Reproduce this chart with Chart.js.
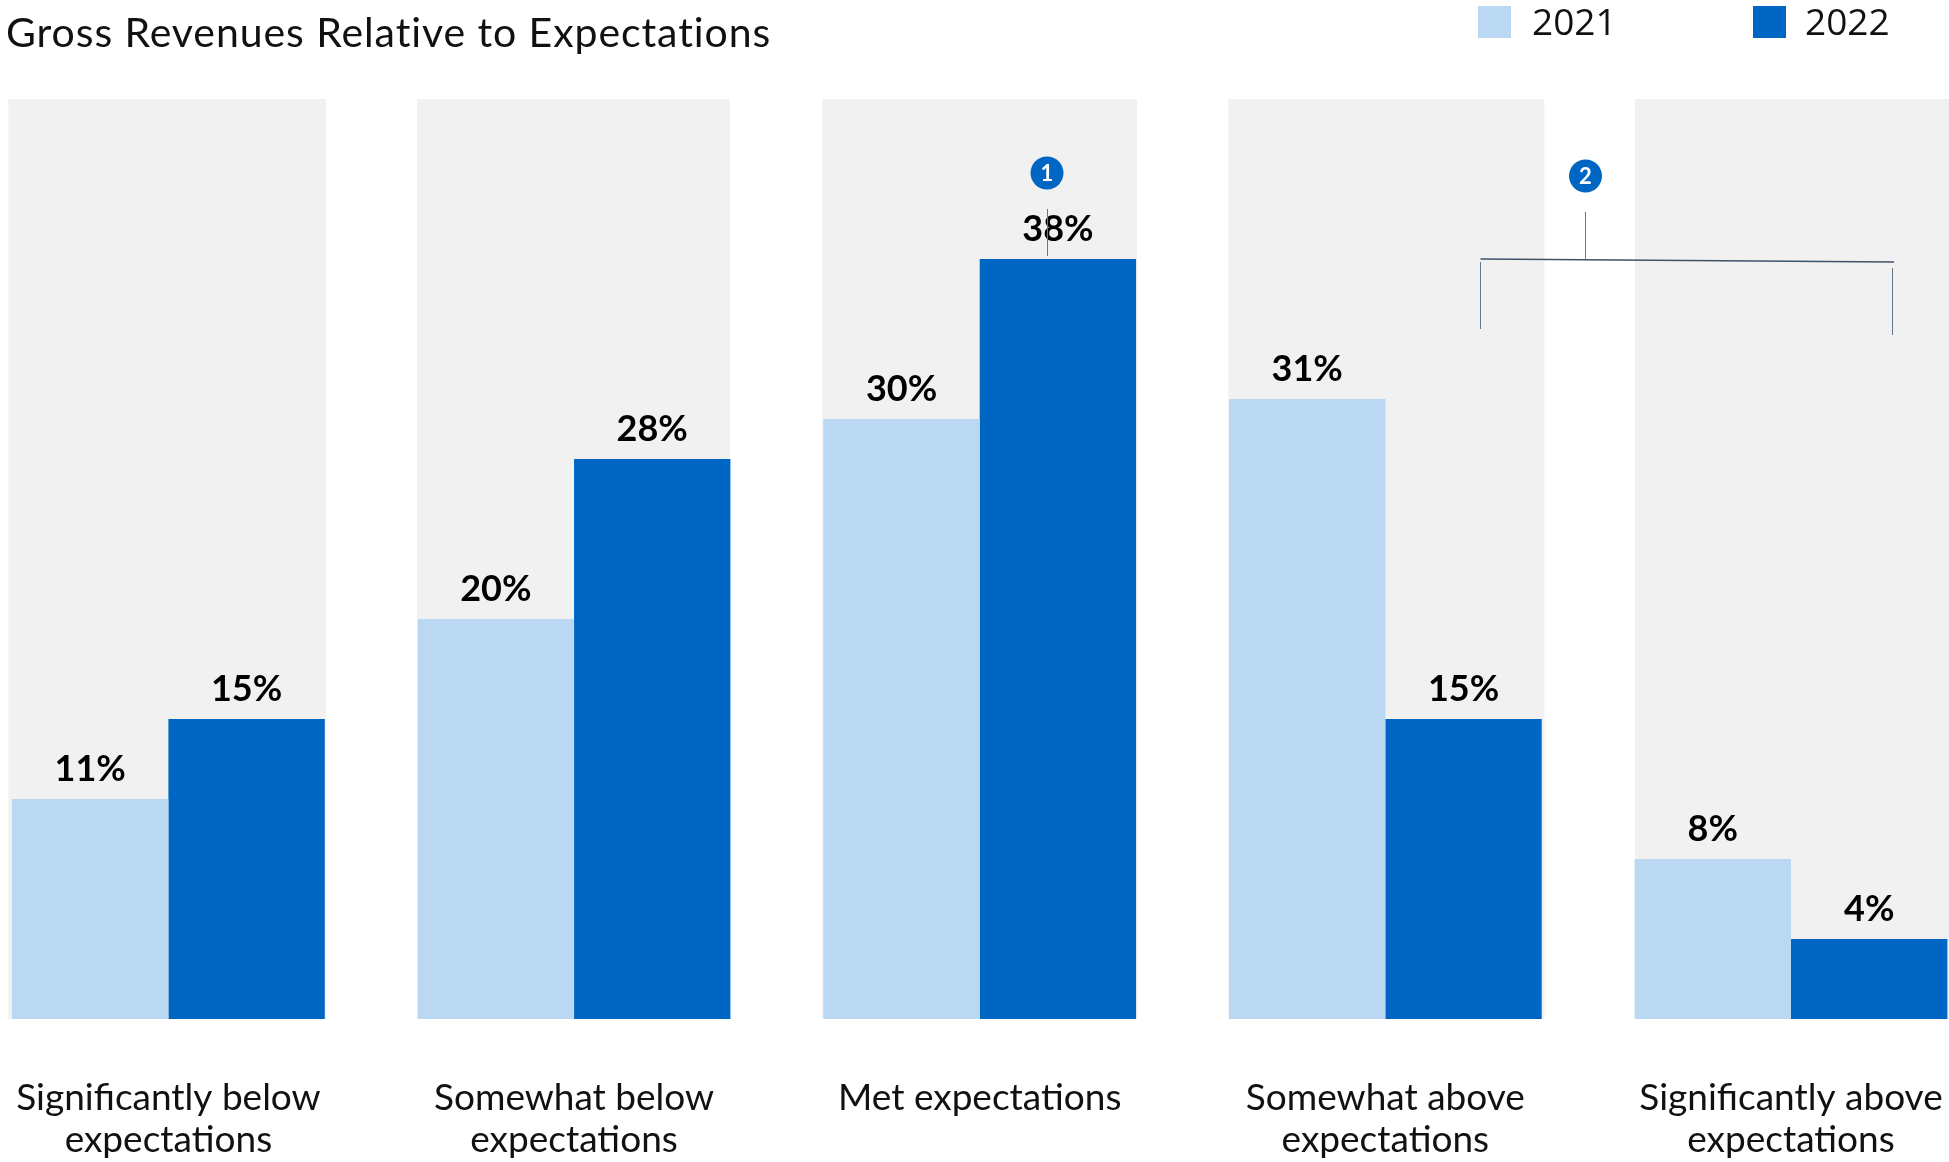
<!DOCTYPE html>
<html>
<head>
<meta charset="utf-8">
<title>Gross Revenues Relative to Expectations</title>
<script src="https://cdn.jsdelivr.net/npm/chart.js@4"></script>
<style>
    html, body { margin: 0; padding: 0; background: #fff; width: 1949px; height: 1162px; overflow: hidden; }
    #wrap { position: relative; width: 1949px; height: 1162px; }
    #myChart { position: absolute; left: 0; top: 0; }
    .title { position: absolute; left: 6px; top: 8px; font: 400 41px/48px Lato, sans-serif; letter-spacing: 0.92px; color: #111; white-space: nowrap; }
    .swatch { position: absolute; top: 6px; width: 33px; height: 32px; }
    .year { position: absolute; top: -2px; font: 400 37px/46px "Open Sans", sans-serif; color: #111; }
</style>
</head>
<body>
<div id="wrap">
    <canvas id="myChart" width="1949" height="1162"></canvas>
    <div class="title">Gross Revenues Relative to Expectations</div>
    <div class="swatch" style="left:1478px;background:#BAD8F2"></div>
    <div class="year" style="left:1532px">2021</div>
    <div class="swatch" style="left:1753px;background:#0066C4"></div>
    <div class="year" style="left:1805px">2022</div>
</div>
<script>
const categories = [
    ['Significantly below', 'expectations'],
    ['Somewhat below', 'expectations'],
    ['Met expectations'],
    ['Somewhat above', 'expectations'],
    ['Significantly above', 'expectations']
];
const values2021 = [11, 20, 30, 31, 8];
const values2022 = [15, 28, 38, 15, 4];

// gray column behind each group, offsets from the group centre
const panelPlugin = {
    id: 'panels',
    beforeDatasetsDraw(chart) {
        const { ctx, chartArea, scales } = chart;
        const edges = [[-160, 157.5], [-157, 156], [-157.5, 157.5], [-157, 159], [-156, 158]];
        ctx.save();
        ctx.fillStyle = '#F1F1F1';
        edges.forEach((e, i) => {
            const c = scales.x.getPixelForTick(i);
            ctx.fillRect(c + e[0], chartArea.top, e[1] - e[0], chartArea.bottom - chartArea.top);
        });
        ctx.restore();
    }
};

// percent label above every bar
const valueLabelPlugin = {
    id: 'valueLabels',
    afterDatasetsDraw(chart) {
        const { ctx } = chart;
        ctx.save();
        ctx.font = '700 36px Lato, sans-serif';
        ctx.fillStyle = '#000';
        ctx.textAlign = 'center';
        ctx.textBaseline = 'alphabetic';
        chart.data.datasets.forEach((ds, d) => {
            chart.getDatasetMeta(d).data.forEach((bar, i) => {
                ctx.fillText(ds.data[i] + '%', bar.x, bar.y - 18);
            });
        });
        ctx.restore();
    }
};

function seg(ctx, x1, y1, x2, y2) {
    ctx.beginPath();
    ctx.moveTo(x1, y1);
    ctx.lineTo(x2, y2);
    ctx.stroke();
}

function badge(ctx, x, y, txt) {
    ctx.fillStyle = '#0066C4';
    ctx.beginPath();
    ctx.arc(x, y, 16.5, 0, Math.PI * 2);
    ctx.fill();
    ctx.fillStyle = '#fff';
    ctx.font = '700 22px Lato, sans-serif';
    ctx.fillText(txt, x, y + 1);
}

// numbered callouts and the bracket over the two "above" groups
const calloutPlugin = {
    id: 'callouts',
    afterDraw(chart) {
        const { ctx } = chart;
        ctx.save();
        ctx.textAlign = 'center';
        ctx.textBaseline = 'middle';
        ctx.strokeStyle = '#64798B';
        ctx.lineWidth = 1;
        seg(ctx, 1047.5, 209, 1047.5, 256);
        seg(ctx, 1585.5, 212, 1585.5, 259);
        seg(ctx, 1480.5, 262, 1480.5, 329);
        seg(ctx, 1892.5, 268, 1892.5, 335);
        ctx.strokeStyle = '#3D5368';
        ctx.lineWidth = 1.5;
        seg(ctx, 1480.5, 259, 1894, 262);
        badge(ctx, 1047, 173, '1');
        badge(ctx, 1585.5, 176, '2');
        ctx.restore();
    }
};

const data = {
    labels: categories,
    datasets: [{
        label: '2021',
        data: values2021,
        backgroundColor: '#BAD8F2',
        clip: false
    }, {
        label: '2022',
        data: values2022,
        backgroundColor: '#0066C4',
        clip: false
    }]
};

const config = {
    type: 'bar',
    data: data,
    options: {
        responsive: false,
        animation: false,
        categoryPercentage: 0.771,
        barPercentage: 1,
        layout: {
            padding: { left: 168.4, right: 158, top: 99, bottom: 0 }
        },
        plugins: {
            legend: { display: false },
            title: { display: false },
            tooltip: { enabled: false }
        },
        scales: {
            x: {
                offset: false,
                grid: { display: false },
                border: { display: false },
                afterFit: (scale) => {
                    scale.height = 143;
                    scale.paddingLeft = 0;
                    scale.paddingRight = 0;
                },
                ticks: {
                    autoSkip: false,
                    maxRotation: 0,
                    minRotation: 0,
                    padding: 50,
                    color: '#111',
                    font: { family: 'Lato, sans-serif', size: 37, lineHeight: 42 / 37 }
                }
            },
            y: {
                display: false,
                min: 0,
                max: 46
            }
        }
    },
    plugins: [panelPlugin, valueLabelPlugin, calloutPlugin]
};

var myChart = new Chart(document.getElementById('myChart'), config);
</script>
</body>
</html>
